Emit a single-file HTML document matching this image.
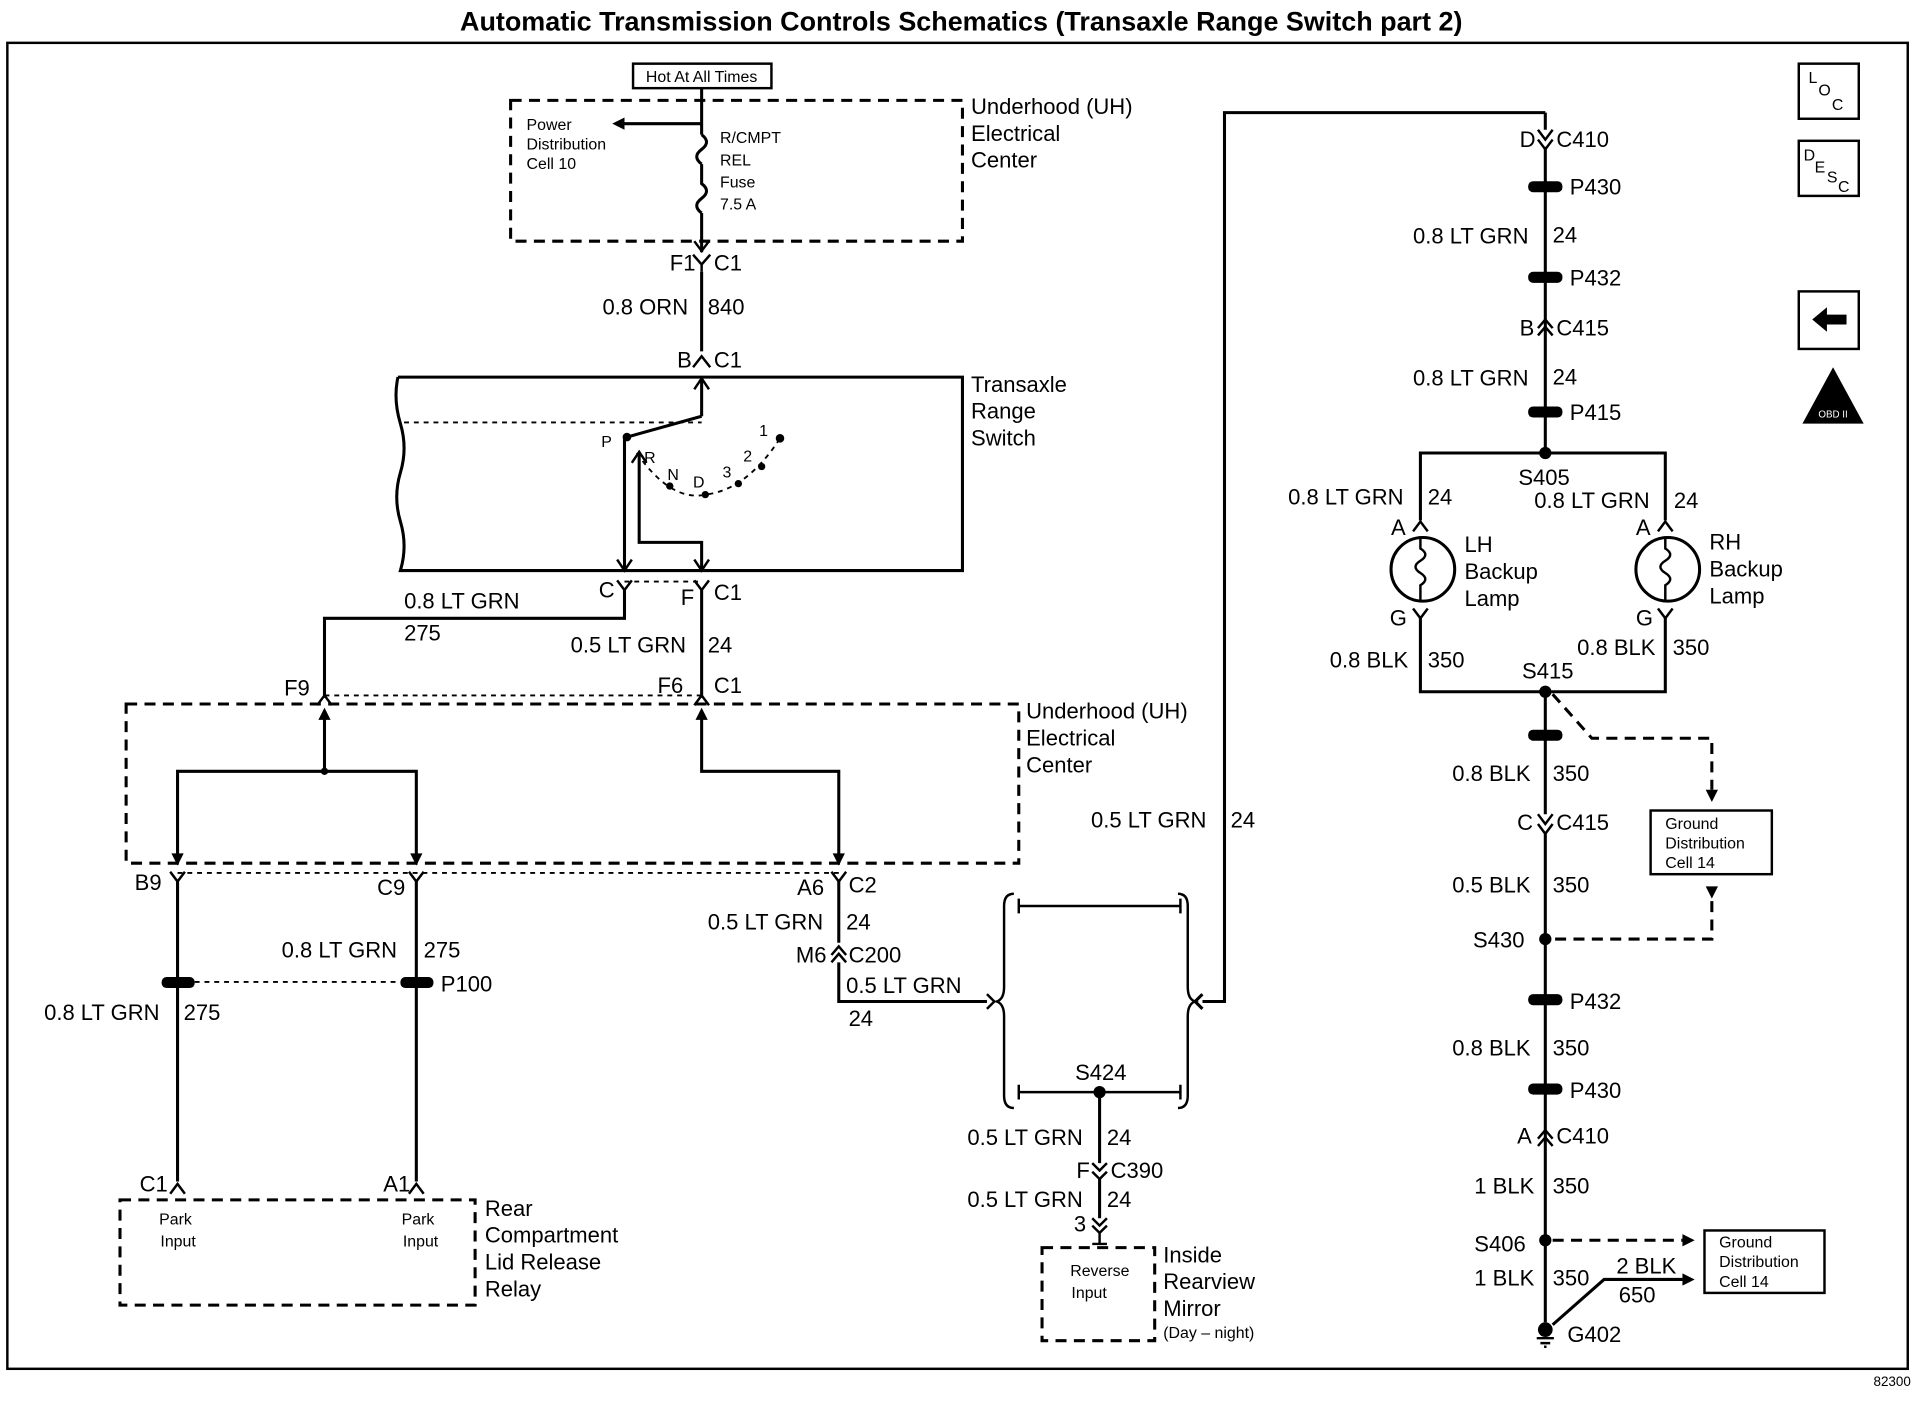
<!DOCTYPE html>
<html><head><meta charset="utf-8"><style>
html,body{margin:0;padding:0;background:#fff}
svg{display:block}
text{font-family:"Liberation Sans",Arial,sans-serif;fill:#000}
.l{font-size:18px}
.s{font-size:13px}
.w{stroke:#000;stroke-width:2.5;fill:none}
.d{stroke:#000;stroke-width:2.5;fill:none;stroke-dasharray:9,6}
.dt{stroke:#000;stroke-width:1.5;fill:none;stroke-dasharray:4,4}
.c{stroke:#000;stroke-width:2;fill:none}
</style></head><body>
<svg width="1920" height="1408" viewBox="0 0 1568 1150" preserveAspectRatio="none" xmlns="http://www.w3.org/2000/svg">
<rect width="1568" height="1150" fill="#fff"/>
<text x="785" y="25" font-size="22" font-weight="bold" text-anchor="middle">Automatic Transmission Controls Schematics (Transaxle Range Switch part 2)</text>
<rect x="6" y="35" width="1552" height="1083" class="c"/>
<text x="1530" y="1132" font-size="11">82300</text>

<!-- top fuse area -->
<rect x="517" y="52" width="113" height="20" class="c"/>
<text x="573" y="67" class="s" text-anchor="middle">Hot At All Times</text>
<rect x="417" y="82" width="369" height="115" class="d"/>
<line x1="573" y1="72" x2="573" y2="110" class="w"/>
<path d="M573 110 q8 6 0 12 q-8 6 0 12 M573 134 L573 150 q8 6 0 12 q-8 6 0 12" class="w"/>
<line x1="573" y1="174" x2="573" y2="206" class="w"/>
<path d="M567 197 L573 205 L579 197" class="c"/>
<line x1="573" y1="101" x2="508" y2="101" class="w"/><path d="M500 101 l10 -5 v10z" fill="#000"/>
<text x="430" y="106" class="s">Power</text><text x="430" y="122" class="s">Distribution</text><text x="430" y="138" class="s">Cell 10</text>
<text x="588" y="117" class="s">R/CMPT</text><text x="588" y="135" class="s">REL</text><text x="588" y="153" class="s">Fuse</text><text x="588" y="171" class="s">7.5 A</text>
<text x="793" y="93" class="l">Underhood (UH)</text><text x="793" y="115" class="l">Electrical</text><text x="793" y="137" class="l">Center</text>

<path d="M566 208 L573 216 L580 208 M573 216 V222" class="c"/>
<text x="547" y="221" class="l">F1</text><text x="583" y="221" class="l">C1</text>
<line x1="573" y1="222" x2="573" y2="287" class="w"/>
<text x="492" y="257" class="l">0.8 ORN</text><text x="578" y="257" class="l">840</text>
<path d="M566 300 L573 291 L580 300" class="c"/>
<text x="553" y="300" class="l">B</text><text x="583" y="300" class="l">C1</text>

<!-- transaxle switch -->
<path d="M325 308 H786 V466 H327 q6 -20 0 -40 q-6 -20 0 -40 q6 -20 0 -40 q-6 -20 -2 -38" class="w"/>
<text x="793" y="320" class="l">Transaxle</text><text x="793" y="342" class="l">Range</text><text x="793" y="364" class="l">Switch</text>
<line x1="573" y1="308" x2="573" y2="340" class="w"/><path d="M567 318 L573 309 L579 318" class="c"/>
<line x1="330" y1="345" x2="573" y2="345" class="dt"/>
<line x1="573" y1="340" x2="512" y2="357" class="w"/>
<circle cx="512" cy="357" r="3.5"/>
<text x="491" y="365" class="s">P</text>
<path d="M520 370 Q548 410 576 404 Q610 400 637 358" class="dt"/>
<circle cx="547" cy="397" r="3"/><circle cx="576" cy="404" r="3"/><circle cx="603" cy="395" r="3"/><circle cx="622" cy="381" r="3"/><circle cx="637" cy="358" r="3.5"/>
<text x="526" y="378" class="s">R</text><text x="545" y="392" class="s">N</text><text x="566" y="398" class="s">D</text><text x="590" y="390" class="s">3</text><text x="607" y="377" class="s">2</text><text x="620" y="356" class="s">1</text>
<line x1="510" y1="357" x2="510" y2="466" class="w"/>
<path d="M522 370 V443 H573 V466" class="w"/>
<path d="M516 378 L522 369 L528 378" class="c"/>
<path d="M504 457 L510 466 L516 457 M567 457 L573 466 L579 457" class="c"/>
<line x1="510" y1="475" x2="573" y2="475" class="dt"/>
<path d="M504 474 L510 482 L516 474 M567 474 L573 482 L579 474" class="c"/>
<text x="489" y="488" class="l">C</text><text x="556" y="494" class="l">F</text><text x="583" y="490" class="l">C1</text>
<path d="M510 482 V505 H265 V570" class="w"/>
<line x1="573" y1="482" x2="573" y2="570" class="w"/>
<text x="330" y="497" class="l">0.8 LT GRN</text><text x="330" y="523" class="l">275</text>
<text x="466" y="533" class="l">0.5 LT GRN</text><text x="578" y="533" class="l">24</text>
<line x1="265" y1="568" x2="573" y2="568" class="dt"/>
<path d="M259 576 L265 568 L271 576 M567 576 L573 568 L579 576" class="c"/>
<text x="232" y="568" class="l">F9</text><text x="537" y="566" class="l">F6</text><text x="583" y="566" class="l">C1</text>

<rect x="103" y="575" width="729" height="130" class="d"/>
<text x="838" y="587" class="l">Underhood (UH)</text><text x="838" y="609" class="l">Electrical</text><text x="838" y="631" class="l">Center</text>
<path d="M265 585 V630 M145 705 V630 H340 V705 M573 585 V630 H685 V705" class="w"/>
<path d="M265 578 l-5 10 h10z M573 578 l-5 10 h10z M145 707 l-5 -10 h10z M340 707 l-5 -10 h10z M685 707 l-5 -10 h10z" fill="#000"/>
<circle cx="265" cy="630" r="3"/>
<line x1="145" y1="713" x2="685" y2="713" class="dt"/>
<path d="M139 712 L145 720 L151 712 M334 712 L340 720 L346 712 M679 712 L685 720 L691 712" class="c"/>
<text x="110" y="727" class="l">B9</text><text x="308" y="731" class="l">C9</text><text x="651" y="731" class="l">A6</text><text x="693" y="729" class="l">C2</text>

<!-- left lower -->
<path d="M145 720 V965 M340 720 V965" class="w"/>
<rect x="132" y="798" width="27" height="9" rx="4"/><rect x="327" y="798" width="27" height="9" rx="4"/>
<line x1="159" y1="802" x2="327" y2="802" class="dt"/>
<text x="230" y="782" class="l">0.8 LT GRN</text><text x="346" y="782" class="l">275</text>
<text x="360" y="810" class="l">P100</text>
<text x="36" y="833" class="l">0.8 LT GRN</text><text x="150" y="833" class="l">275</text>
<path d="M139 975 L145 967 L151 975 M334 975 L340 967 L346 975" class="c"/>
<text x="114" y="973" class="l">C1</text><text x="313" y="973" class="l">A1</text>
<rect x="98" y="980" width="290" height="86" class="d"/>
<text x="130" y="1000" class="s">Park</text><text x="131" y="1018" class="s">Input</text>
<text x="328" y="1000" class="s">Park</text><text x="329" y="1018" class="s">Input</text>
<text x="396" y="993" class="l">Rear</text><text x="396" y="1015" class="l">Compartment</text><text x="396" y="1037" class="l">Lid Release</text><text x="396" y="1059" class="l">Relay</text>

<!-- middle -->
<path d="M685 720 V770 M685 786 V818 H806" class="w"/>
<text x="578" y="759" class="l">0.5 LT GRN</text><text x="691" y="759" class="l">24</text>
<path d="M679 780 L685 773 L691 780 M679 786 L685 779 L691 786" class="c"/>
<text x="650" y="786" class="l">M6</text><text x="693" y="786" class="l">C200</text>
<text x="691" y="811" class="l">0.5 LT GRN</text><text x="693" y="838" class="l">24</text>
<path d="M806 812 L812 818 L806 824" class="c"/>
<path d="M828 730 q-8 0 -8 10 V806 q0 10 -6 12 q6 2 6 12 V895 q0 10 8 10" class="c"/>
<path d="M962 730 q8 0 8 10 V806 q0 10 6 12 q-6 2 -6 12 V895 q0 10 -8 10" class="c"/>
<path d="M832 740 H964 M832 734 V746 M964 734 V746 M832 892 H964 M832 886 V898 M964 886 V898" class="c"/>
<path d="M982 812 L976 818 L982 824 M982 818 H1000 V92 H1262" class="w"/>
<text x="891" y="676" class="l">0.5 LT GRN</text><text x="1005" y="676" class="l">24</text>
<circle cx="898" cy="892" r="5"/>
<text x="878" y="882" class="l">S424</text>
<path d="M898 892 V950 M898 962 V995" class="w"/>
<text x="790" y="935" class="l">0.5 LT GRN</text><text x="904" y="935" class="l">24</text>
<path d="M892 950 L898 956 L904 950 M892 957 L898 963 L904 957" class="c"/>
<text x="879" y="962" class="l">F</text><text x="907" y="962" class="l">C390</text>
<text x="790" y="986" class="l">0.5 LT GRN</text><text x="904" y="986" class="l">24</text>
<path d="M892 995 L898 1001 L904 995 M892 1001 L898 1007 L904 1001 M898 1007 V1016 M892 1016 H904" class="c"/>
<text x="877" y="1006" class="l">3</text>
<rect x="851" y="1019" width="92" height="76" class="d"/>
<text x="874" y="1042" class="s">Reverse</text><text x="875" y="1060" class="s">Input</text>
<text x="950" y="1031" class="l">Inside</text><text x="950" y="1053" class="l">Rearview</text><text x="950" y="1075" class="l">Mirror</text><text x="950" y="1093" font-size="13">(Day – night)</text>

<!-- right column -->
<path d="M1262 92 V106 M1262 120 V370 H1160 V425 M1262 370 H1360 V425" class="w"/>
<path d="M1256 106 L1262 114 L1268 106 M1256 114 L1262 122 L1268 114" class="c"/>
<text x="1241" y="120" class="l">D</text><text x="1271" y="120" class="l">C410</text>
<rect x="1248" y="148" width="28" height="9" rx="4"/><text x="1282" y="159" class="l">P430</text>
<text x="1154" y="199" class="l">0.8 LT GRN</text><text x="1268" y="198" class="l">24</text>
<rect x="1248" y="222" width="28" height="9" rx="4"/><text x="1282" y="233" class="l">P432</text>
<path d="M1256 268 L1262 261 L1268 268 M1256 274 L1262 267 L1268 274" class="c"/>
<text x="1241" y="274" class="l">B</text><text x="1271" y="274" class="l">C415</text>
<text x="1154" y="315" class="l">0.8 LT GRN</text><text x="1268" y="314" class="l">24</text>
<rect x="1248" y="332" width="28" height="9" rx="4"/><text x="1282" y="343" class="l">P415</text>
<circle cx="1262" cy="370" r="5"/>
<text x="1240" y="396" class="l">S405</text>
<text x="1052" y="412" class="l">0.8 LT GRN</text><text x="1166" y="412" class="l">24</text>
<text x="1253" y="415" class="l">0.8 LT GRN</text><text x="1367" y="415" class="l">24</text>
<path d="M1154 434 L1160 426 L1166 434 M1354 434 L1360 426 L1366 434" class="c"/>
<text x="1136" y="437" class="l">A</text><text x="1336" y="437" class="l">A</text>
<circle cx="1162" cy="465" r="26" class="w"/><circle cx="1362" cy="465" r="26" class="w"/>
<path d="M1160 438 V448 q8 5 0 10 q-8 5 0 10 q8 5 0 10 V492 M1360 438 V448 q8 5 0 10 q-8 5 0 10 q8 5 0 10 V492" class="c"/>
<text x="1196" y="451" class="l">LH</text><text x="1196" y="473" class="l">Backup</text><text x="1196" y="495" class="l">Lamp</text>
<text x="1396" y="449" class="l">RH</text><text x="1396" y="471" class="l">Backup</text><text x="1396" y="493" class="l">Lamp</text>
<path d="M1154 497 L1160 505 L1166 497 M1354 497 L1360 505 L1366 497" class="c"/>
<text x="1135" y="511" class="l">G</text><text x="1336" y="511" class="l">G</text>
<path d="M1160 505 V565 H1360 V505 M1262 565 V665 M1262 680 V1080" class="w"/>
<text x="1086" y="545" class="l">0.8 BLK</text><text x="1166" y="545" class="l">350</text>
<text x="1288" y="535" class="l">0.8 BLK</text><text x="1366" y="535" class="l">350</text>
<circle cx="1262" cy="565" r="5"/><text x="1243" y="554" class="l">S415</text>
<rect x="1248" y="596" width="28" height="9" rx="4"/>
<text x="1186" y="638" class="l">0.8 BLK</text><text x="1268" y="638" class="l">350</text>
<path d="M1256 665 L1262 673 L1268 665 M1256 673 L1262 681 L1268 673" class="c"/>
<text x="1239" y="678" class="l">C</text><text x="1271" y="678" class="l">C415</text>
<text x="1186" y="729" class="l">0.5 BLK</text><text x="1268" y="729" class="l">350</text>
<circle cx="1262" cy="767" r="5"/><text x="1203" y="774" class="l">S430</text>
<rect x="1248" y="812" width="28" height="9" rx="4"/><text x="1282" y="824" class="l">P432</text>
<text x="1186" y="862" class="l">0.8 BLK</text><text x="1268" y="862" class="l">350</text>
<rect x="1248" y="885" width="28" height="9" rx="4"/><text x="1282" y="897" class="l">P430</text>
<path d="M1256 930 L1262 923 L1268 930 M1256 936 L1262 929 L1268 936" class="c"/>
<text x="1239" y="934" class="l">A</text><text x="1271" y="934" class="l">C410</text>
<text x="1204" y="975" class="l">1 BLK</text><text x="1268" y="975" class="l">350</text>
<circle cx="1262" cy="1013" r="5"/><text x="1204" y="1022" class="l">S406</text>
<text x="1204" y="1050" class="l">1 BLK</text><text x="1268" y="1050" class="l">350</text>
<circle cx="1262" cy="1086" r="6"/><path d="M1255 1093 H1269 M1258 1097 H1266 M1261 1100 H1263" class="c"/>
<text x="1280" y="1096" class="l">G402</text>
<path d="M1268 1082 L1310 1045 H1374" class="w"/><path d="M1384 1045 l-10 -5 v10z" fill="#000"/>
<text x="1320" y="1040" class="l">2 BLK</text><text x="1322" y="1064" class="l">650</text>
<path d="M1268 1013 H1374" class="d"/><path d="M1384 1013 l-10 -5 v10z" fill="#000"/>
<rect x="1392" y="1005" width="98" height="51" class="c"/>
<text x="1404" y="1019" class="s">Ground</text><text x="1404" y="1035" class="s">Distribution</text><text x="1404" y="1051" class="s">Cell 14</text>
<path d="M1268 567 L1300 603 H1398 V645" class="d"/><path d="M1398 655 l-5 -10 h10z" fill="#000"/>
<rect x="1348" y="662" width="99" height="52" class="c"/>
<text x="1360" y="677" class="s">Ground</text><text x="1360" y="693" class="s">Distribution</text><text x="1360" y="709" class="s">Cell 14</text>
<path d="M1398 736 V767 H1268" class="d"/><path d="M1398 734 l-5 -10 h10z" fill="#000"/>

<!-- icons -->
<rect x="1469" y="52" width="49" height="45" class="c"/>
<text x="1477" y="68" class="s">L</text><text x="1485" y="78" class="s">O</text><text x="1496" y="90" class="s">C</text>
<rect x="1469" y="115" width="49" height="45" class="c"/>
<text x="1473" y="131" class="s">D</text><text x="1482" y="141" class="s">E</text><text x="1492" y="149" class="s">S</text><text x="1501" y="157" class="s">C</text>
<rect x="1469" y="238" width="49" height="47" class="c"/>
<path d="M1480 261 L1492 251 V257 H1508 V265 H1492 V271z" fill="#000"/>
<path d="M1497 300 L1522 346 H1472z" fill="#000"/>
<text x="1497" y="341" font-size="8" text-anchor="middle" style="fill:#fff">OBD II</text>
</svg>
</body></html>
